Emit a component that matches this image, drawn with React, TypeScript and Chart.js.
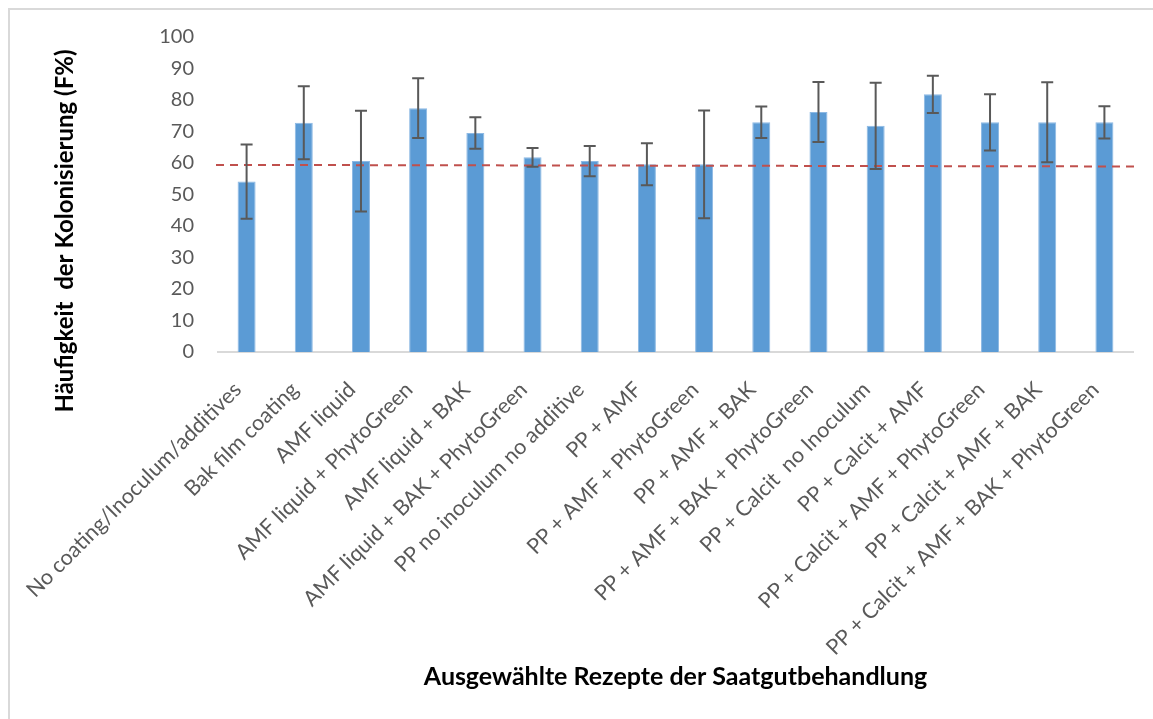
import React, { useEffect, useRef } from "react";
import { Chart, registerables } from "chart.js";

Chart.register(...registerables);

const categories: string[] = [
  "No coating/Inoculum/additives",
  "Bak film coating",
  "AMF liquid",
  "AMF liquid + PhytoGreen",
  "AMF liquid + BAK",
  "AMF liquid + BAK + PhytoGreen",
  "PP no inoculum no additive",
  "PP + AMF",
  "PP + AMF + PhytoGreen",
  "PP + AMF + BAK",
  "PP + AMF + BAK + PhytoGreen",
  "PP + Calcit  no Inoculum",
  "PP + Calcit + AMF",
  "PP + Calcit + AMF + PhytoGreen",
  "PP + Calcit + AMF + BAK",
  "PP + Calcit + AMF + BAK + PhytoGreen",
];

const frequency: number[] = [
  54.1, 72.8, 60.6, 77.4, 69.5, 61.8, 60.6, 59.6, 59.6, 72.9, 76.2, 71.8, 81.8, 72.9, 72.9, 72.9,
];

const errorValues: number[] = [
  11.8, 11.6, 16.0, 9.5, 5.0, 3.0, 4.8, 6.7, 17.1, 5.0, 9.5, 13.7, 5.9, 8.9, 12.7, 5.1,
];

// reference (dashed) line: value at left edge and right edge of plot
const referenceLine: number[] = [59.4, 58.9];

const yMin = 0;
const yMax = 100;
const yStep = 10;

const xTitle = "Ausgewählte Rezepte der Saatgutbehandlung";
const yTitle = "Häufigkeit  der Kolonisierung (F%)";

const W = 1153;
const H = 719;

const framePlugin = {
  id: "frame",
  beforeDraw(chart: any) {
    const ctx = chart.ctx;
    ctx.save();
    ctx.fillStyle = "#ffffff";
    ctx.fillRect(0, 0, chart.width, chart.height);
    ctx.strokeStyle = "#d9d9d9";
    ctx.lineWidth = 2;
    ctx.beginPath();
    ctx.moveTo(9, chart.height);
    ctx.lineTo(9, 9);
    ctx.lineTo(chart.width, 9);
    ctx.stroke();
    ctx.restore();
  },
};

const refLinePlugin = {
  id: "refLine",
  afterDatasetsDraw(chart: any) {
    const { ctx, chartArea, scales } = chart;
    const y0 = scales.y.getPixelForValue(referenceLine[0]);
    const y1 = scales.y.getPixelForValue(referenceLine[1]);
    ctx.save();
    ctx.strokeStyle = "#C0504D";
    ctx.lineWidth = 2;
    ctx.setLineDash([8, 6]);
    ctx.beginPath();
    ctx.moveTo(chartArea.left - 2, y0);
    ctx.lineTo(chartArea.right + 2, y1);
    ctx.stroke();
    ctx.restore();
  },
};

const errorBarPlugin = {
  id: "errorBars",
  afterDatasetsDraw(chart: any) {
    const { ctx, scales } = chart;
    const meta = chart.getDatasetMeta(0);
    ctx.save();
    ctx.strokeStyle = "#595959";
    ctx.lineWidth = 2;
    meta.data.forEach((bar: any, i: number) => {
      const x = bar.x;
      const top = scales.y.getPixelForValue(frequency[i] + errorValues[i]);
      const bot = scales.y.getPixelForValue(frequency[i] - errorValues[i]);
      const cap = 6;
      ctx.beginPath();
      ctx.moveTo(x, top);
      ctx.lineTo(x, bot);
      ctx.moveTo(x - cap, top);
      ctx.lineTo(x + cap, top);
      ctx.moveTo(x - cap, bot);
      ctx.lineTo(x + cap, bot);
      ctx.stroke();
    });
    ctx.restore();
  },
};

const titlePlugin = {
  id: "axisTitles",
  afterDraw(chart: any) {
    const { ctx, chartArea } = chart;
    ctx.save();
    ctx.fillStyle = "#000000";
    ctx.textAlign = "center";
    ctx.textBaseline = "alphabetic";
    ctx.font = "bold 25px Lato";
    ctx.fillText(xTitle, (chartArea.left + chartArea.right) / 2, 685);
    ctx.font = "bold 24px Lato";
    ctx.translate(73, 231);
    ctx.rotate(-Math.PI / 2);
    ctx.fillText(yTitle, 0, 0);
    ctx.restore();
  },
};

export default function App() {
  const ref = useRef<HTMLCanvasElement>(null);

  useEffect(() => {
    let chart: Chart | null = null;
    let cancelled = false;
    const build = () => {
      if (cancelled || !ref.current) return;
      Chart.defaults.font.family = "Lato";
      chart = new Chart(ref.current, {
        type: "bar",
        data: {
          labels: categories,
          datasets: [
            {
              data: frequency,
              backgroundColor: "#5B9BD5",
              borderColor: "#8DB9E4",
              borderWidth: 1,
              borderSkipped: "bottom",
              barPercentage: 0.315,
              categoryPercentage: 1,
            },
          ],
        },
        options: {
          responsive: false,
          animation: false,
          devicePixelRatio: 1,
          layout: { padding: { left: 100, right: 20, top: 37, bottom: 0 } },
          plugins: {
            legend: { display: false },
            tooltip: { enabled: false },
          },
          scales: {
            x: {
              grid: { display: false, drawTicks: false },
              border: { display: true, color: "#d9d9d9", width: 2 },
              ticks: {
                autoSkip: false,
                minRotation: 45,
                maxRotation: 45,
                color: "#595959",
                font: { size: 21.5, family: "Lato" },
                padding: 25,
                labelOffset: -9,
              },
              afterFit: (s: any) => {
                s.height = H - 352;
              },
            },
            y: {
              min: yMin,
              max: yMax,
              ticks: {
                stepSize: yStep,
                color: "#595959",
                font: { size: 20, family: "Lato" },
                padding: 24,
              },
              grid: { display: false, drawTicks: false },
              border: { display: false },
              afterFit: (s: any) => {
                s.width = 118;
              },
            },
          },
        },
        plugins: [framePlugin, refLinePlugin, errorBarPlugin, titlePlugin],
      });
    };
    const fonts: any = (document as any).fonts;
    if (fonts && fonts.load) {
      Promise.all([fonts.load("20px Lato"), fonts.load("bold 24px Lato")]).then(build, build);
    } else {
      build();
    }
    return () => {
      cancelled = true;
      if (chart) chart.destroy();
    };
  }, []);

  return (
    <canvas
      ref={ref}
      width={W}
      height={H}
      style={{ position: "fixed", left: 0, top: 0, width: W, height: H }}
    />
  );
}
